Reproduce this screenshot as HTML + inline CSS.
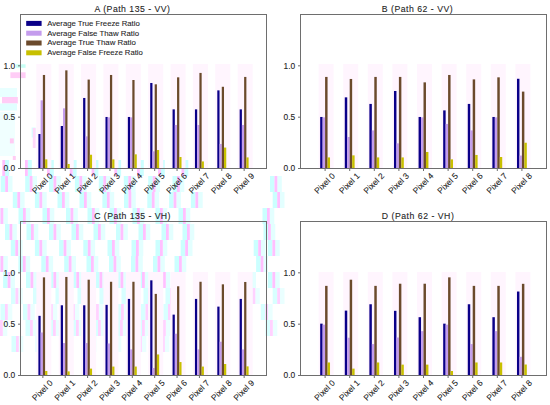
<!DOCTYPE html>
<html><head><meta charset="utf-8"><title>chart</title>
<style>
html,body{margin:0;padding:0;background:#fff;}
body{width:550px;height:405px;overflow:hidden;}
svg{display:block;}
text{font-family:"Liberation Sans",sans-serif;fill:#1e1e1e;stroke:#1e1e1e;stroke-width:0.1px;}
.tk{font-size:8.4px;}
.tt{font-size:8.7px;}
.lg{font-size:6.8px;stroke-width:0.08px;}
</style></head>
<body>
<svg width="550" height="405" viewBox="0 0 550 405">
<rect x="0" y="0" width="550" height="405" fill="#fff"/>
<rect x="15.9" y="64.3" width="9.7" height="3.5" fill="#c8fff5"/>
<rect x="10.4" y="72.3" width="15.2" height="5.8" fill="#ffcdf6"/>
<rect x="0" y="88" width="17" height="9" fill="#e8ffff"/>
<rect x="2" y="97" width="15.8" height="6.5" fill="#ffcdf6"/>
<rect x="0" y="103.5" width="17" height="7" fill="#e0ffff"/>
<rect x="0" y="112" width="15" height="44" fill="#f0ffff"/>
<rect x="31.6" y="127.5" width="4" height="10" fill="#d8ffff"/>
<rect x="32.8" y="128" width="2.8" height="20" fill="#ffd8fa"/>
<rect x="9.9" y="138.4" width="3.9" height="5" fill="#ffccf4"/>
<rect x="12.8" y="156" width="3" height="4" fill="#ffccf4"/>
<rect x="5.1" y="160" width="4" height="16" fill="#cbffff"/>
<rect x="2.3" y="160" width="2.8" height="16" fill="#ffc0ff"/>
<rect x="27.8" y="160" width="4" height="16" fill="#cbffff"/>
<rect x="25.0" y="160" width="2.8" height="16" fill="#ffc0ff"/>
<rect x="49.8" y="160" width="4" height="16" fill="#cbffff"/>
<rect x="47.0" y="160" width="2.8" height="16" fill="#ffc0ff"/>
<rect x="72.6" y="160" width="4" height="16" fill="#cbffff"/>
<rect x="69.8" y="160" width="2.8" height="16" fill="#ffc0ff"/>
<rect x="94.4" y="160" width="4" height="16" fill="#cbffff"/>
<rect x="91.6" y="160" width="2.8" height="16" fill="#ffc0ff"/>
<rect x="117.1" y="160" width="4" height="16" fill="#cbffff"/>
<rect x="114.3" y="160" width="2.8" height="16" fill="#ffc0ff"/>
<rect x="139.8" y="160" width="4" height="16" fill="#cbffff"/>
<rect x="137.0" y="160" width="2.8" height="16" fill="#ffc0ff"/>
<rect x="160.8" y="160" width="4" height="16" fill="#cbffff"/>
<rect x="158.0" y="160" width="2.8" height="16" fill="#ffc0ff"/>
<rect x="184.3" y="160" width="4" height="16" fill="#cbffff"/>
<rect x="181.5" y="160" width="2.8" height="16" fill="#ffc0ff"/>
<rect x="0.7" y="176" width="4.5" height="16" fill="#cbffff"/>
<rect x="8.0" y="176" width="4.5" height="16" fill="#e3ffff"/>
<rect x="5.2" y="176" width="2.8" height="16" fill="#ffc0ff"/>
<rect x="25.2" y="176" width="4.5" height="16" fill="#cbffff"/>
<rect x="32.5" y="176" width="4.5" height="16" fill="#e3ffff"/>
<rect x="29.7" y="176" width="2.8" height="16" fill="#ffc0ff"/>
<rect x="49.0" y="176" width="4.5" height="16" fill="#cbffff"/>
<rect x="56.3" y="176" width="4.5" height="16" fill="#e3ffff"/>
<rect x="53.5" y="176" width="2.8" height="16" fill="#ffc0ff"/>
<rect x="74.9" y="176" width="4.5" height="16" fill="#cbffff"/>
<rect x="82.2" y="176" width="4.5" height="16" fill="#e3ffff"/>
<rect x="79.4" y="176" width="2.8" height="16" fill="#ffc0ff"/>
<rect x="98.8" y="176" width="4.5" height="16" fill="#cbffff"/>
<rect x="106.1" y="176" width="4.5" height="16" fill="#e3ffff"/>
<rect x="103.3" y="176" width="2.8" height="16" fill="#ffc0ff"/>
<rect x="123.8" y="176" width="4.5" height="16" fill="#cbffff"/>
<rect x="131.1" y="176" width="4.5" height="16" fill="#e3ffff"/>
<rect x="128.3" y="176" width="2.8" height="16" fill="#ffc0ff"/>
<rect x="148.2" y="176" width="4.5" height="16" fill="#cbffff"/>
<rect x="155.5" y="176" width="4.5" height="16" fill="#e3ffff"/>
<rect x="152.7" y="176" width="2.8" height="16" fill="#ffc0ff"/>
<rect x="172.5" y="176" width="4.5" height="16" fill="#cbffff"/>
<rect x="179.8" y="176" width="4.5" height="16" fill="#e3ffff"/>
<rect x="177.0" y="176" width="2.8" height="16" fill="#ffc0ff"/>
<rect x="270.0" y="176" width="4.5" height="16" fill="#cbffff"/>
<rect x="277.3" y="176" width="4.5" height="16" fill="#e3ffff"/>
<rect x="274.5" y="176" width="2.8" height="16" fill="#ffc0ff"/>
<rect x="12.8" y="192" width="4.5" height="16" fill="#cbffff"/>
<rect x="20.1" y="192" width="4.5" height="16" fill="#e3ffff"/>
<rect x="17.3" y="192" width="2.8" height="16" fill="#ffc0ff"/>
<rect x="34.9" y="192" width="4.5" height="16" fill="#cbffff"/>
<rect x="42.2" y="192" width="4.5" height="16" fill="#e3ffff"/>
<rect x="39.4" y="192" width="2.8" height="16" fill="#ffc0ff"/>
<rect x="57.5" y="192" width="4.5" height="16" fill="#cbffff"/>
<rect x="64.8" y="192" width="4.5" height="16" fill="#e3ffff"/>
<rect x="62.0" y="192" width="2.8" height="16" fill="#ffc0ff"/>
<rect x="79.5" y="192" width="4.5" height="16" fill="#cbffff"/>
<rect x="86.8" y="192" width="4.5" height="16" fill="#e3ffff"/>
<rect x="84.0" y="192" width="2.8" height="16" fill="#ffc0ff"/>
<rect x="102.4" y="192" width="4.5" height="16" fill="#cbffff"/>
<rect x="109.7" y="192" width="4.5" height="16" fill="#e3ffff"/>
<rect x="106.9" y="192" width="2.8" height="16" fill="#ffc0ff"/>
<rect x="124.0" y="192" width="4.5" height="16" fill="#cbffff"/>
<rect x="131.3" y="192" width="4.5" height="16" fill="#e3ffff"/>
<rect x="128.5" y="192" width="2.8" height="16" fill="#ffc0ff"/>
<rect x="147.3" y="192" width="4.5" height="16" fill="#cbffff"/>
<rect x="154.6" y="192" width="4.5" height="16" fill="#e3ffff"/>
<rect x="151.8" y="192" width="2.8" height="16" fill="#ffc0ff"/>
<rect x="169.1" y="192" width="4.5" height="16" fill="#cbffff"/>
<rect x="176.4" y="192" width="4.5" height="16" fill="#e3ffff"/>
<rect x="173.6" y="192" width="2.8" height="16" fill="#ffc0ff"/>
<rect x="190.9" y="192" width="4.5" height="16" fill="#cbffff"/>
<rect x="198.2" y="192" width="4.5" height="16" fill="#e3ffff"/>
<rect x="195.4" y="192" width="2.8" height="16" fill="#ffc0ff"/>
<rect x="272.7" y="192" width="4.5" height="16" fill="#cbffff"/>
<rect x="280.0" y="192" width="4.5" height="16" fill="#e3ffff"/>
<rect x="277.2" y="192" width="2.8" height="16" fill="#ffc0ff"/>
<rect x="-4.0" y="208" width="4.5" height="16" fill="#cbffff"/>
<rect x="3.3" y="208" width="4.5" height="16" fill="#e3ffff"/>
<rect x="0.5" y="208" width="2.8" height="16" fill="#ffc0ff"/>
<rect x="18.5" y="208" width="4.5" height="16" fill="#cbffff"/>
<rect x="25.8" y="208" width="4.5" height="16" fill="#e3ffff"/>
<rect x="23.0" y="208" width="2.8" height="16" fill="#ffc0ff"/>
<rect x="42.5" y="208" width="4.5" height="16" fill="#cbffff"/>
<rect x="49.8" y="208" width="4.5" height="16" fill="#e3ffff"/>
<rect x="47.0" y="208" width="2.8" height="16" fill="#ffc0ff"/>
<rect x="66.0" y="208" width="4.5" height="16" fill="#cbffff"/>
<rect x="73.3" y="208" width="4.5" height="16" fill="#e3ffff"/>
<rect x="70.5" y="208" width="2.8" height="16" fill="#ffc0ff"/>
<rect x="87.5" y="208" width="4.5" height="16" fill="#cbffff"/>
<rect x="94.8" y="208" width="4.5" height="16" fill="#e3ffff"/>
<rect x="92.0" y="208" width="2.8" height="16" fill="#ffc0ff"/>
<rect x="109.5" y="208" width="4.5" height="16" fill="#cbffff"/>
<rect x="116.8" y="208" width="4.5" height="16" fill="#e3ffff"/>
<rect x="114.0" y="208" width="2.8" height="16" fill="#ffc0ff"/>
<rect x="132.5" y="208" width="4.5" height="16" fill="#cbffff"/>
<rect x="139.8" y="208" width="4.5" height="16" fill="#e3ffff"/>
<rect x="137.0" y="208" width="2.8" height="16" fill="#ffc0ff"/>
<rect x="155.5" y="208" width="4.5" height="16" fill="#cbffff"/>
<rect x="162.8" y="208" width="4.5" height="16" fill="#e3ffff"/>
<rect x="160.0" y="208" width="2.8" height="16" fill="#ffc0ff"/>
<rect x="178.5" y="208" width="4.5" height="16" fill="#cbffff"/>
<rect x="185.8" y="208" width="4.5" height="16" fill="#e3ffff"/>
<rect x="183.0" y="208" width="2.8" height="16" fill="#ffc0ff"/>
<rect x="262.5" y="208" width="4.5" height="16" fill="#cbffff"/>
<rect x="269.8" y="208" width="4.5" height="16" fill="#e3ffff"/>
<rect x="267.0" y="208" width="2.8" height="16" fill="#ffc0ff"/>
<rect x="5.0" y="224" width="4.5" height="16" fill="#cbffff"/>
<rect x="12.3" y="224" width="4.5" height="16" fill="#e3ffff"/>
<rect x="9.5" y="224" width="2.8" height="16" fill="#ffc0ff"/>
<rect x="26.5" y="224" width="4.5" height="16" fill="#cbffff"/>
<rect x="33.8" y="224" width="4.5" height="16" fill="#e3ffff"/>
<rect x="31.0" y="224" width="2.8" height="16" fill="#ffc0ff"/>
<rect x="49.0" y="224" width="4.5" height="16" fill="#cbffff"/>
<rect x="56.3" y="224" width="4.5" height="16" fill="#e3ffff"/>
<rect x="53.5" y="224" width="2.8" height="16" fill="#ffc0ff"/>
<rect x="71.5" y="224" width="4.5" height="16" fill="#cbffff"/>
<rect x="78.8" y="224" width="4.5" height="16" fill="#e3ffff"/>
<rect x="76.0" y="224" width="2.8" height="16" fill="#ffc0ff"/>
<rect x="93.5" y="224" width="4.5" height="16" fill="#cbffff"/>
<rect x="100.8" y="224" width="4.5" height="16" fill="#e3ffff"/>
<rect x="98.0" y="224" width="2.8" height="16" fill="#ffc0ff"/>
<rect x="116.0" y="224" width="4.5" height="16" fill="#cbffff"/>
<rect x="123.3" y="224" width="4.5" height="16" fill="#e3ffff"/>
<rect x="120.5" y="224" width="2.8" height="16" fill="#ffc0ff"/>
<rect x="138.5" y="224" width="4.5" height="16" fill="#cbffff"/>
<rect x="145.8" y="224" width="4.5" height="16" fill="#e3ffff"/>
<rect x="143.0" y="224" width="2.8" height="16" fill="#ffc0ff"/>
<rect x="161.5" y="224" width="4.5" height="16" fill="#cbffff"/>
<rect x="168.8" y="224" width="4.5" height="16" fill="#e3ffff"/>
<rect x="166.0" y="224" width="2.8" height="16" fill="#ffc0ff"/>
<rect x="182.5" y="224" width="4.5" height="16" fill="#cbffff"/>
<rect x="189.8" y="224" width="4.5" height="16" fill="#e3ffff"/>
<rect x="187.0" y="224" width="2.8" height="16" fill="#ffc0ff"/>
<rect x="263.5" y="224" width="4.5" height="16" fill="#cbffff"/>
<rect x="270.8" y="224" width="4.5" height="16" fill="#e3ffff"/>
<rect x="268.0" y="224" width="2.8" height="16" fill="#ffc0ff"/>
<rect x="10.8" y="240" width="4.5" height="16" fill="#cbffff"/>
<rect x="18.1" y="240" width="4.5" height="16" fill="#e3ffff"/>
<rect x="15.3" y="240" width="2.8" height="16" fill="#ffc0ff"/>
<rect x="34.9" y="240" width="4.5" height="16" fill="#cbffff"/>
<rect x="42.2" y="240" width="4.5" height="16" fill="#e3ffff"/>
<rect x="39.4" y="240" width="2.8" height="16" fill="#ffc0ff"/>
<rect x="59.1" y="240" width="4.5" height="16" fill="#cbffff"/>
<rect x="66.4" y="240" width="4.5" height="16" fill="#e3ffff"/>
<rect x="63.6" y="240" width="2.8" height="16" fill="#ffc0ff"/>
<rect x="83.3" y="240" width="4.5" height="16" fill="#cbffff"/>
<rect x="90.6" y="240" width="4.5" height="16" fill="#e3ffff"/>
<rect x="87.8" y="240" width="2.8" height="16" fill="#ffc0ff"/>
<rect x="107.5" y="240" width="4.5" height="16" fill="#cbffff"/>
<rect x="114.8" y="240" width="4.5" height="16" fill="#e3ffff"/>
<rect x="112.0" y="240" width="2.8" height="16" fill="#ffc0ff"/>
<rect x="131.5" y="240" width="4.5" height="16" fill="#cbffff"/>
<rect x="138.8" y="240" width="4.5" height="16" fill="#e3ffff"/>
<rect x="136.0" y="240" width="2.8" height="16" fill="#ffc0ff"/>
<rect x="155.5" y="240" width="4.5" height="16" fill="#cbffff"/>
<rect x="162.8" y="240" width="4.5" height="16" fill="#e3ffff"/>
<rect x="160.0" y="240" width="2.8" height="16" fill="#ffc0ff"/>
<rect x="180.7" y="240" width="4.5" height="16" fill="#cbffff"/>
<rect x="188.0" y="240" width="4.5" height="16" fill="#e3ffff"/>
<rect x="185.2" y="240" width="2.8" height="16" fill="#ffc0ff"/>
<rect x="253.7" y="240" width="4.5" height="16" fill="#cbffff"/>
<rect x="261.0" y="240" width="4.5" height="16" fill="#e3ffff"/>
<rect x="258.2" y="240" width="2.8" height="16" fill="#ffc0ff"/>
<rect x="267.9" y="240" width="4.5" height="16" fill="#cbffff"/>
<rect x="275.2" y="240" width="4.5" height="16" fill="#e3ffff"/>
<rect x="272.4" y="240" width="2.8" height="16" fill="#ffc0ff"/>
<rect x="-4.0" y="256" width="4.5" height="16" fill="#cbffff"/>
<rect x="3.3" y="256" width="4.5" height="16" fill="#e3ffff"/>
<rect x="0.5" y="256" width="2.8" height="16" fill="#ffc0ff"/>
<rect x="18.4" y="256" width="4.5" height="16" fill="#cbffff"/>
<rect x="25.7" y="256" width="4.5" height="16" fill="#e3ffff"/>
<rect x="22.9" y="256" width="2.8" height="16" fill="#ffc0ff"/>
<rect x="41.3" y="256" width="4.5" height="16" fill="#cbffff"/>
<rect x="48.6" y="256" width="4.5" height="16" fill="#e3ffff"/>
<rect x="45.8" y="256" width="2.8" height="16" fill="#ffc0ff"/>
<rect x="64.2" y="256" width="4.5" height="16" fill="#cbffff"/>
<rect x="71.5" y="256" width="4.5" height="16" fill="#e3ffff"/>
<rect x="68.7" y="256" width="2.8" height="16" fill="#ffc0ff"/>
<rect x="86.5" y="256" width="4.5" height="16" fill="#cbffff"/>
<rect x="93.8" y="256" width="4.5" height="16" fill="#e3ffff"/>
<rect x="91.0" y="256" width="2.8" height="16" fill="#ffc0ff"/>
<rect x="109.0" y="256" width="4.5" height="16" fill="#cbffff"/>
<rect x="116.3" y="256" width="4.5" height="16" fill="#e3ffff"/>
<rect x="113.5" y="256" width="2.8" height="16" fill="#ffc0ff"/>
<rect x="131.0" y="256" width="4.5" height="16" fill="#cbffff"/>
<rect x="138.3" y="256" width="4.5" height="16" fill="#e3ffff"/>
<rect x="135.5" y="256" width="2.8" height="16" fill="#ffc0ff"/>
<rect x="153.0" y="256" width="4.5" height="16" fill="#cbffff"/>
<rect x="160.3" y="256" width="4.5" height="16" fill="#e3ffff"/>
<rect x="157.5" y="256" width="2.8" height="16" fill="#ffc0ff"/>
<rect x="174.5" y="256" width="4.5" height="16" fill="#cbffff"/>
<rect x="181.8" y="256" width="4.5" height="16" fill="#e3ffff"/>
<rect x="179.0" y="256" width="2.8" height="16" fill="#ffc0ff"/>
<rect x="256.1" y="256" width="4.5" height="16" fill="#cbffff"/>
<rect x="263.4" y="256" width="4.5" height="16" fill="#e3ffff"/>
<rect x="260.6" y="256" width="2.8" height="16" fill="#ffc0ff"/>
<rect x="3.1" y="272" width="4.5" height="16" fill="#cbffff"/>
<rect x="10.4" y="272" width="4.5" height="16" fill="#e3ffff"/>
<rect x="7.6" y="272" width="2.8" height="16" fill="#ffc0ff"/>
<rect x="26.0" y="272" width="4.5" height="16" fill="#cbffff"/>
<rect x="33.3" y="272" width="4.5" height="16" fill="#e3ffff"/>
<rect x="30.5" y="272" width="2.8" height="16" fill="#ffc0ff"/>
<rect x="48.9" y="272" width="4.5" height="16" fill="#cbffff"/>
<rect x="56.2" y="272" width="4.5" height="16" fill="#e3ffff"/>
<rect x="53.4" y="272" width="2.8" height="16" fill="#ffc0ff"/>
<rect x="71.8" y="272" width="4.5" height="16" fill="#cbffff"/>
<rect x="79.1" y="272" width="4.5" height="16" fill="#e3ffff"/>
<rect x="76.3" y="272" width="2.8" height="16" fill="#ffc0ff"/>
<rect x="95.0" y="272" width="4.5" height="16" fill="#cbffff"/>
<rect x="102.3" y="272" width="4.5" height="16" fill="#e3ffff"/>
<rect x="99.5" y="272" width="2.8" height="16" fill="#ffc0ff"/>
<rect x="116.0" y="272" width="4.5" height="16" fill="#cbffff"/>
<rect x="123.3" y="272" width="4.5" height="16" fill="#e3ffff"/>
<rect x="120.5" y="272" width="2.8" height="16" fill="#ffc0ff"/>
<rect x="137.5" y="272" width="4.5" height="16" fill="#cbffff"/>
<rect x="144.8" y="272" width="4.5" height="16" fill="#e3ffff"/>
<rect x="142.0" y="272" width="2.8" height="16" fill="#ffc0ff"/>
<rect x="158.5" y="272" width="4.5" height="16" fill="#cbffff"/>
<rect x="165.8" y="272" width="4.5" height="16" fill="#e3ffff"/>
<rect x="163.0" y="272" width="2.8" height="16" fill="#ffc0ff"/>
<rect x="244.2" y="272" width="4.5" height="16" fill="#cbffff"/>
<rect x="251.5" y="272" width="4.5" height="16" fill="#e3ffff"/>
<rect x="248.7" y="272" width="2.8" height="16" fill="#ffc0ff"/>
<rect x="267.9" y="272" width="4.5" height="16" fill="#cbffff"/>
<rect x="275.2" y="272" width="4.5" height="16" fill="#e3ffff"/>
<rect x="272.4" y="272" width="2.8" height="16" fill="#ffc0ff"/>
<rect x="11.0" y="288" width="4.5" height="16" fill="#d8ffff"/>
<rect x="18.3" y="288" width="4.5" height="16" fill="#eaffff"/>
<rect x="15.5" y="288" width="2.8" height="16" fill="#ffd2ff"/>
<rect x="33.0" y="288" width="4.5" height="16" fill="#d8ffff"/>
<rect x="40.3" y="288" width="4.5" height="16" fill="#eaffff"/>
<rect x="37.5" y="288" width="2.8" height="16" fill="#ffd2ff"/>
<rect x="55.5" y="288" width="4.5" height="16" fill="#d8ffff"/>
<rect x="62.8" y="288" width="4.5" height="16" fill="#eaffff"/>
<rect x="60.0" y="288" width="2.8" height="16" fill="#ffd2ff"/>
<rect x="77.5" y="288" width="4.5" height="16" fill="#d8ffff"/>
<rect x="84.8" y="288" width="4.5" height="16" fill="#eaffff"/>
<rect x="82.0" y="288" width="2.8" height="16" fill="#ffd2ff"/>
<rect x="99.5" y="288" width="4.5" height="16" fill="#d8ffff"/>
<rect x="106.8" y="288" width="4.5" height="16" fill="#eaffff"/>
<rect x="104.0" y="288" width="2.8" height="16" fill="#ffd2ff"/>
<rect x="121.5" y="288" width="4.5" height="16" fill="#d8ffff"/>
<rect x="128.8" y="288" width="4.5" height="16" fill="#eaffff"/>
<rect x="126.0" y="288" width="2.8" height="16" fill="#ffd2ff"/>
<rect x="143.5" y="288" width="4.5" height="16" fill="#d8ffff"/>
<rect x="150.8" y="288" width="4.5" height="16" fill="#eaffff"/>
<rect x="148.0" y="288" width="2.8" height="16" fill="#ffd2ff"/>
<rect x="165.5" y="288" width="4.5" height="16" fill="#d8ffff"/>
<rect x="172.8" y="288" width="4.5" height="16" fill="#eaffff"/>
<rect x="170.0" y="288" width="2.8" height="16" fill="#ffd2ff"/>
<rect x="248.0" y="288" width="4.5" height="16" fill="#d8ffff"/>
<rect x="255.3" y="288" width="4.5" height="16" fill="#eaffff"/>
<rect x="252.5" y="288" width="2.8" height="16" fill="#ffd2ff"/>
<rect x="272.7" y="288" width="4.5" height="16" fill="#d8ffff"/>
<rect x="280.0" y="288" width="4.5" height="16" fill="#eaffff"/>
<rect x="277.2" y="288" width="2.8" height="16" fill="#ffd2ff"/>
<rect x="0.5" y="304" width="4.5" height="16" fill="#d8ffff"/>
<rect x="7.8" y="304" width="4.5" height="16" fill="#eaffff"/>
<rect x="5.0" y="304" width="2.8" height="16" fill="#ffd2ff"/>
<rect x="23.0" y="304" width="4.5" height="16" fill="#d8ffff"/>
<rect x="30.3" y="304" width="4.5" height="16" fill="#eaffff"/>
<rect x="27.5" y="304" width="2.8" height="16" fill="#ffd2ff"/>
<rect x="45.5" y="304" width="4.5" height="16" fill="#d8ffff"/>
<rect x="52.8" y="304" width="4.5" height="16" fill="#eaffff"/>
<rect x="50.0" y="304" width="2.8" height="16" fill="#ffd2ff"/>
<rect x="67.5" y="304" width="4.5" height="16" fill="#d8ffff"/>
<rect x="74.8" y="304" width="4.5" height="16" fill="#eaffff"/>
<rect x="72.0" y="304" width="2.8" height="16" fill="#ffd2ff"/>
<rect x="91.5" y="304" width="4.5" height="16" fill="#d8ffff"/>
<rect x="98.8" y="304" width="4.5" height="16" fill="#eaffff"/>
<rect x="96.0" y="304" width="2.8" height="16" fill="#ffd2ff"/>
<rect x="116.5" y="304" width="4.5" height="16" fill="#d8ffff"/>
<rect x="123.8" y="304" width="4.5" height="16" fill="#eaffff"/>
<rect x="121.0" y="304" width="2.8" height="16" fill="#ffd2ff"/>
<rect x="141.0" y="304" width="4.5" height="16" fill="#d8ffff"/>
<rect x="148.3" y="304" width="4.5" height="16" fill="#eaffff"/>
<rect x="145.5" y="304" width="2.8" height="16" fill="#ffd2ff"/>
<rect x="163.5" y="304" width="4.5" height="16" fill="#d8ffff"/>
<rect x="170.8" y="304" width="4.5" height="16" fill="#eaffff"/>
<rect x="168.0" y="304" width="2.8" height="16" fill="#ffd2ff"/>
<rect x="260.8" y="304" width="4.5" height="16" fill="#d8ffff"/>
<rect x="268.1" y="304" width="4.5" height="16" fill="#eaffff"/>
<rect x="265.3" y="304" width="2.8" height="16" fill="#ffd2ff"/>
<rect x="-4.5" y="320" width="4.5" height="16" fill="#d8ffff"/>
<rect x="2.8" y="320" width="4.5" height="16" fill="#eaffff"/>
<rect x="0.0" y="320" width="2.8" height="16" fill="#ffd2ff"/>
<rect x="25.5" y="320" width="4.5" height="16" fill="#d8ffff"/>
<rect x="32.8" y="320" width="4.5" height="16" fill="#eaffff"/>
<rect x="30.0" y="320" width="2.8" height="16" fill="#ffd2ff"/>
<rect x="48.5" y="320" width="4.5" height="16" fill="#d8ffff"/>
<rect x="55.8" y="320" width="4.5" height="16" fill="#eaffff"/>
<rect x="53.0" y="320" width="2.8" height="16" fill="#ffd2ff"/>
<rect x="71.5" y="320" width="4.5" height="16" fill="#d8ffff"/>
<rect x="78.8" y="320" width="4.5" height="16" fill="#eaffff"/>
<rect x="76.0" y="320" width="2.8" height="16" fill="#ffd2ff"/>
<rect x="93.5" y="320" width="4.5" height="16" fill="#d8ffff"/>
<rect x="100.8" y="320" width="4.5" height="16" fill="#eaffff"/>
<rect x="98.0" y="320" width="2.8" height="16" fill="#ffd2ff"/>
<rect x="115.5" y="320" width="4.5" height="16" fill="#d8ffff"/>
<rect x="122.8" y="320" width="4.5" height="16" fill="#eaffff"/>
<rect x="120.0" y="320" width="2.8" height="16" fill="#ffd2ff"/>
<rect x="137.5" y="320" width="4.5" height="16" fill="#d8ffff"/>
<rect x="144.8" y="320" width="4.5" height="16" fill="#eaffff"/>
<rect x="142.0" y="320" width="2.8" height="16" fill="#ffd2ff"/>
<rect x="158.5" y="320" width="4.5" height="16" fill="#d8ffff"/>
<rect x="165.8" y="320" width="4.5" height="16" fill="#eaffff"/>
<rect x="163.0" y="320" width="2.8" height="16" fill="#ffd2ff"/>
<rect x="265.5" y="320" width="4.5" height="16" fill="#d8ffff"/>
<rect x="272.8" y="320" width="4.5" height="16" fill="#eaffff"/>
<rect x="270.0" y="320" width="2.8" height="16" fill="#ffd2ff"/>
<rect x="11.5" y="336" width="4.5" height="16" fill="#d8ffff"/>
<rect x="18.8" y="336" width="4.5" height="16" fill="#eaffff"/>
<rect x="16.0" y="336" width="2.8" height="16" fill="#ffd2ff"/>
<rect x="35.5" y="336" width="4.5" height="16" fill="#d8ffff"/>
<rect x="42.8" y="336" width="4.5" height="16" fill="#eaffff"/>
<rect x="40.0" y="336" width="2.8" height="16" fill="#ffd2ff"/>
<rect x="59.5" y="336" width="4.5" height="16" fill="#d8ffff"/>
<rect x="66.8" y="336" width="4.5" height="16" fill="#eaffff"/>
<rect x="64.0" y="336" width="2.8" height="16" fill="#ffd2ff"/>
<rect x="84.5" y="336" width="4.5" height="16" fill="#d8ffff"/>
<rect x="91.8" y="336" width="4.5" height="16" fill="#eaffff"/>
<rect x="89.0" y="336" width="2.8" height="16" fill="#ffd2ff"/>
<rect x="109.5" y="336" width="4.5" height="16" fill="#d8ffff"/>
<rect x="116.8" y="336" width="4.5" height="16" fill="#eaffff"/>
<rect x="114.0" y="336" width="2.8" height="16" fill="#ffd2ff"/>
<rect x="134.5" y="336" width="4.5" height="16" fill="#d8ffff"/>
<rect x="141.8" y="336" width="4.5" height="16" fill="#eaffff"/>
<rect x="139.0" y="336" width="2.8" height="16" fill="#ffd2ff"/>
<rect x="157.5" y="336" width="4.5" height="16" fill="#d8ffff"/>
<rect x="164.8" y="336" width="4.5" height="16" fill="#eaffff"/>
<rect x="162.0" y="336" width="2.8" height="16" fill="#ffd2ff"/>
<rect x="36.36" y="64" width="15" height="104" fill="#fff5fe"/>
<rect x="58.73" y="64" width="15" height="104" fill="#fff5fe"/>
<rect x="81.09" y="64" width="15" height="104" fill="#fff5fe"/>
<rect x="103.45" y="64" width="15" height="104" fill="#fff5fe"/>
<rect x="125.82" y="64" width="15" height="104" fill="#fff5fe"/>
<rect x="148.18" y="64" width="15" height="104" fill="#fff5fe"/>
<rect x="170.55" y="64" width="15" height="104" fill="#fff5fe"/>
<rect x="192.91" y="64" width="15" height="104" fill="#fff5fe"/>
<rect x="215.27" y="64" width="15" height="104" fill="#fff5fe"/>
<rect x="237.64" y="64" width="15" height="104" fill="#fff5fe"/>
<rect x="38.39" y="134.00" width="2.24" height="34.50" fill="#0a0088"/>
<rect x="40.63" y="100.33" width="2.24" height="68.17" fill="#c49ced"/>
<rect x="42.86" y="74.97" width="2.24" height="93.53" fill="#6b4a2c"/>
<rect x="45.10" y="159.36" width="2.24" height="9.14" fill="#c8c000"/>
<rect x="60.75" y="126.00" width="2.24" height="42.50" fill="#0a0088"/>
<rect x="62.99" y="108.34" width="2.24" height="60.16" fill="#c49ced"/>
<rect x="65.23" y="70.35" width="2.24" height="98.15" fill="#6b4a2c"/>
<rect x="67.46" y="163.98" width="2.24" height="4.52" fill="#c8c000"/>
<rect x="83.12" y="97.97" width="2.24" height="70.53" fill="#0a0088"/>
<rect x="85.35" y="136.37" width="2.24" height="32.13" fill="#c49ced"/>
<rect x="87.59" y="79.59" width="2.24" height="88.91" fill="#6b4a2c"/>
<rect x="89.83" y="154.74" width="2.24" height="13.76" fill="#c8c000"/>
<rect x="105.48" y="116.96" width="2.24" height="51.54" fill="#0a0088"/>
<rect x="107.72" y="117.37" width="2.24" height="51.13" fill="#c49ced"/>
<rect x="109.95" y="74.97" width="2.24" height="93.53" fill="#6b4a2c"/>
<rect x="112.19" y="159.36" width="2.24" height="9.14" fill="#c8c000"/>
<rect x="127.85" y="116.96" width="2.24" height="51.54" fill="#0a0088"/>
<rect x="130.08" y="117.37" width="2.24" height="51.13" fill="#c49ced"/>
<rect x="132.32" y="80.00" width="2.24" height="88.50" fill="#6b4a2c"/>
<rect x="134.55" y="154.33" width="2.24" height="14.17" fill="#c8c000"/>
<rect x="150.21" y="82.98" width="2.24" height="85.52" fill="#0a0088"/>
<rect x="152.45" y="151.35" width="2.24" height="17.15" fill="#c49ced"/>
<rect x="154.68" y="84.31" width="2.24" height="84.19" fill="#6b4a2c"/>
<rect x="156.92" y="150.02" width="2.24" height="18.48" fill="#c8c000"/>
<rect x="172.57" y="109.36" width="2.24" height="59.14" fill="#0a0088"/>
<rect x="174.81" y="124.97" width="2.24" height="43.53" fill="#c49ced"/>
<rect x="177.05" y="77.33" width="2.24" height="91.17" fill="#6b4a2c"/>
<rect x="179.28" y="157.00" width="2.24" height="11.50" fill="#c8c000"/>
<rect x="194.94" y="109.36" width="2.24" height="59.14" fill="#0a0088"/>
<rect x="197.17" y="124.97" width="2.24" height="43.53" fill="#c49ced"/>
<rect x="199.41" y="72.92" width="2.24" height="95.58" fill="#6b4a2c"/>
<rect x="201.65" y="161.42" width="2.24" height="7.08" fill="#c8c000"/>
<rect x="217.30" y="90.37" width="2.24" height="78.13" fill="#0a0088"/>
<rect x="219.54" y="143.96" width="2.24" height="24.54" fill="#c49ced"/>
<rect x="221.77" y="86.78" width="2.24" height="81.72" fill="#6b4a2c"/>
<rect x="224.01" y="147.56" width="2.24" height="20.94" fill="#c8c000"/>
<rect x="239.66" y="109.36" width="2.24" height="59.14" fill="#0a0088"/>
<rect x="241.90" y="124.97" width="2.24" height="43.53" fill="#c49ced"/>
<rect x="244.14" y="76.92" width="2.24" height="91.58" fill="#6b4a2c"/>
<rect x="246.37" y="157.41" width="2.24" height="11.09" fill="#c8c000"/>
<rect x="20" y="14" width="247" height="1" fill="#6e6e6e"/>
<rect x="20" y="168" width="247" height="1" fill="#6e6e6e"/>
<rect x="20" y="14" width="1" height="155" fill="#6e6e6e"/>
<rect x="266" y="14" width="1" height="155" fill="#6e6e6e"/>
<rect x="18" y="168.00" width="2" height="1" fill="#6e6e6e"/>
<text x="15.20" y="171.25" text-anchor="end" class="tk">0.0</text>
<rect x="18" y="116.67" width="2" height="1" fill="#6e6e6e"/>
<text x="15.20" y="119.92" text-anchor="end" class="tk">0.5</text>
<rect x="18" y="65.33" width="2" height="1" fill="#6e6e6e"/>
<text x="15.20" y="68.58" text-anchor="end" class="tk">1.0</text>
<rect x="42.36" y="169" width="1" height="2" fill="#6e6e6e"/>
<text class="tk" text-anchor="middle" transform="translate(42.56,183.40) rotate(-45)" y="2.75">Pixel 0</text>
<rect x="64.73" y="169" width="1" height="2" fill="#6e6e6e"/>
<text class="tk" text-anchor="middle" transform="translate(64.93,183.40) rotate(-45)" y="2.75">Pixel 1</text>
<rect x="87.09" y="169" width="1" height="2" fill="#6e6e6e"/>
<text class="tk" text-anchor="middle" transform="translate(87.29,183.40) rotate(-45)" y="2.75">Pixel 2</text>
<rect x="109.45" y="169" width="1" height="2" fill="#6e6e6e"/>
<text class="tk" text-anchor="middle" transform="translate(109.65,183.40) rotate(-45)" y="2.75">Pixel 3</text>
<rect x="131.82" y="169" width="1" height="2" fill="#6e6e6e"/>
<text class="tk" text-anchor="middle" transform="translate(132.02,183.40) rotate(-45)" y="2.75">Pixel 4</text>
<rect x="154.18" y="169" width="1" height="2" fill="#6e6e6e"/>
<text class="tk" text-anchor="middle" transform="translate(154.38,183.40) rotate(-45)" y="2.75">Pixel 5</text>
<rect x="176.55" y="169" width="1" height="2" fill="#6e6e6e"/>
<text class="tk" text-anchor="middle" transform="translate(176.75,183.40) rotate(-45)" y="2.75">Pixel 6</text>
<rect x="198.91" y="169" width="1" height="2" fill="#6e6e6e"/>
<text class="tk" text-anchor="middle" transform="translate(199.11,183.40) rotate(-45)" y="2.75">Pixel 7</text>
<rect x="221.27" y="169" width="1" height="2" fill="#6e6e6e"/>
<text class="tk" text-anchor="middle" transform="translate(221.47,183.40) rotate(-45)" y="2.75">Pixel 8</text>
<rect x="243.64" y="169" width="1" height="2" fill="#6e6e6e"/>
<text class="tk" text-anchor="middle" transform="translate(243.84,183.40) rotate(-45)" y="2.75">Pixel 9</text>
<text class="tt" x="94.50" y="11.70" textLength="75.50" lengthAdjust="spacing">A (Path 135 - VV)</text>
<rect x="318.60" y="64" width="15" height="104" fill="#fff5fe"/>
<rect x="343.20" y="64" width="15" height="104" fill="#fff5fe"/>
<rect x="367.80" y="64" width="15" height="104" fill="#fff5fe"/>
<rect x="392.40" y="64" width="15" height="104" fill="#fff5fe"/>
<rect x="417.00" y="64" width="15" height="104" fill="#fff5fe"/>
<rect x="441.60" y="64" width="15" height="104" fill="#fff5fe"/>
<rect x="466.20" y="64" width="15" height="104" fill="#fff5fe"/>
<rect x="490.80" y="64" width="15" height="104" fill="#fff5fe"/>
<rect x="515.40" y="64" width="15" height="104" fill="#fff5fe"/>
<rect x="320.18" y="116.96" width="2.46" height="51.54" fill="#0a0088"/>
<rect x="322.64" y="117.37" width="2.46" height="51.13" fill="#c49ced"/>
<rect x="325.10" y="76.92" width="2.46" height="91.58" fill="#6b4a2c"/>
<rect x="327.56" y="157.41" width="2.46" height="11.09" fill="#c8c000"/>
<rect x="344.78" y="97.35" width="2.46" height="71.15" fill="#0a0088"/>
<rect x="347.24" y="136.98" width="2.46" height="31.52" fill="#c49ced"/>
<rect x="349.70" y="78.97" width="2.46" height="89.53" fill="#6b4a2c"/>
<rect x="352.16" y="155.36" width="2.46" height="13.14" fill="#c8c000"/>
<rect x="369.38" y="103.92" width="2.46" height="64.58" fill="#0a0088"/>
<rect x="371.84" y="130.41" width="2.46" height="38.09" fill="#c49ced"/>
<rect x="374.30" y="76.92" width="2.46" height="91.58" fill="#6b4a2c"/>
<rect x="376.76" y="157.41" width="2.46" height="11.09" fill="#c8c000"/>
<rect x="393.98" y="90.99" width="2.46" height="77.51" fill="#0a0088"/>
<rect x="396.44" y="143.35" width="2.46" height="25.15" fill="#c49ced"/>
<rect x="398.90" y="76.92" width="2.46" height="91.58" fill="#6b4a2c"/>
<rect x="401.36" y="157.41" width="2.46" height="11.09" fill="#c8c000"/>
<rect x="418.58" y="116.96" width="2.46" height="51.54" fill="#0a0088"/>
<rect x="421.04" y="117.37" width="2.46" height="51.13" fill="#c49ced"/>
<rect x="423.50" y="82.36" width="2.46" height="86.14" fill="#6b4a2c"/>
<rect x="425.96" y="151.97" width="2.46" height="16.53" fill="#c8c000"/>
<rect x="443.18" y="110.39" width="2.46" height="58.11" fill="#0a0088"/>
<rect x="445.64" y="123.94" width="2.46" height="44.56" fill="#c49ced"/>
<rect x="448.10" y="74.97" width="2.46" height="93.53" fill="#6b4a2c"/>
<rect x="450.56" y="159.36" width="2.46" height="9.14" fill="#c8c000"/>
<rect x="467.78" y="103.92" width="2.46" height="64.58" fill="#0a0088"/>
<rect x="470.24" y="130.41" width="2.46" height="38.09" fill="#c49ced"/>
<rect x="472.70" y="79.39" width="2.46" height="89.11" fill="#6b4a2c"/>
<rect x="475.16" y="154.95" width="2.46" height="13.55" fill="#c8c000"/>
<rect x="492.38" y="116.96" width="2.46" height="51.54" fill="#0a0088"/>
<rect x="494.84" y="117.37" width="2.46" height="51.13" fill="#c49ced"/>
<rect x="497.30" y="77.33" width="2.46" height="91.17" fill="#6b4a2c"/>
<rect x="499.76" y="157.00" width="2.46" height="11.50" fill="#c8c000"/>
<rect x="516.98" y="78.77" width="2.46" height="89.73" fill="#0a0088"/>
<rect x="519.44" y="155.56" width="2.46" height="12.94" fill="#c49ced"/>
<rect x="521.90" y="91.60" width="2.46" height="76.90" fill="#6b4a2c"/>
<rect x="524.36" y="142.73" width="2.46" height="25.77" fill="#c8c000"/>
<rect x="300" y="14" width="247" height="1" fill="#6e6e6e"/>
<rect x="300" y="168" width="247" height="1" fill="#6e6e6e"/>
<rect x="300" y="14" width="1" height="155" fill="#6e6e6e"/>
<rect x="546" y="14" width="1" height="155" fill="#6e6e6e"/>
<rect x="298" y="168.00" width="2" height="1" fill="#6e6e6e"/>
<text x="295.20" y="171.25" text-anchor="end" class="tk">0.0</text>
<rect x="298" y="116.67" width="2" height="1" fill="#6e6e6e"/>
<text x="295.20" y="119.92" text-anchor="end" class="tk">0.5</text>
<rect x="298" y="65.33" width="2" height="1" fill="#6e6e6e"/>
<text x="295.20" y="68.58" text-anchor="end" class="tk">1.0</text>
<rect x="324.60" y="169" width="1" height="2" fill="#6e6e6e"/>
<text class="tk" text-anchor="middle" transform="translate(324.80,183.40) rotate(-45)" y="2.75">Pixel 0</text>
<rect x="349.20" y="169" width="1" height="2" fill="#6e6e6e"/>
<text class="tk" text-anchor="middle" transform="translate(349.40,183.40) rotate(-45)" y="2.75">Pixel 1</text>
<rect x="373.80" y="169" width="1" height="2" fill="#6e6e6e"/>
<text class="tk" text-anchor="middle" transform="translate(374.00,183.40) rotate(-45)" y="2.75">Pixel 2</text>
<rect x="398.40" y="169" width="1" height="2" fill="#6e6e6e"/>
<text class="tk" text-anchor="middle" transform="translate(398.60,183.40) rotate(-45)" y="2.75">Pixel 3</text>
<rect x="423.00" y="169" width="1" height="2" fill="#6e6e6e"/>
<text class="tk" text-anchor="middle" transform="translate(423.20,183.40) rotate(-45)" y="2.75">Pixel 4</text>
<rect x="447.60" y="169" width="1" height="2" fill="#6e6e6e"/>
<text class="tk" text-anchor="middle" transform="translate(447.80,183.40) rotate(-45)" y="2.75">Pixel 5</text>
<rect x="472.20" y="169" width="1" height="2" fill="#6e6e6e"/>
<text class="tk" text-anchor="middle" transform="translate(472.40,183.40) rotate(-45)" y="2.75">Pixel 6</text>
<rect x="496.80" y="169" width="1" height="2" fill="#6e6e6e"/>
<text class="tk" text-anchor="middle" transform="translate(497.00,183.40) rotate(-45)" y="2.75">Pixel 7</text>
<rect x="521.40" y="169" width="1" height="2" fill="#6e6e6e"/>
<text class="tk" text-anchor="middle" transform="translate(521.60,183.40) rotate(-45)" y="2.75">Pixel 8</text>
<text class="tt" x="381.80" y="11.70" textLength="70.90" lengthAdjust="spacing">B (Path 62 - VV)</text>
<rect x="36.36" y="272" width="15" height="103" fill="#fff5fe"/>
<rect x="58.73" y="272" width="15" height="103" fill="#fff5fe"/>
<rect x="81.09" y="272" width="15" height="103" fill="#fff5fe"/>
<rect x="103.45" y="272" width="15" height="103" fill="#fff5fe"/>
<rect x="125.82" y="272" width="15" height="103" fill="#fff5fe"/>
<rect x="148.18" y="272" width="15" height="103" fill="#fff5fe"/>
<rect x="170.55" y="272" width="15" height="103" fill="#fff5fe"/>
<rect x="192.91" y="272" width="15" height="103" fill="#fff5fe"/>
<rect x="215.27" y="272" width="15" height="103" fill="#fff5fe"/>
<rect x="237.64" y="272" width="15" height="103" fill="#fff5fe"/>
<rect x="38.39" y="315.85" width="2.24" height="59.65" fill="#0a0088"/>
<rect x="40.63" y="332.48" width="2.24" height="43.02" fill="#c49ced"/>
<rect x="42.86" y="277.35" width="2.24" height="98.15" fill="#6b4a2c"/>
<rect x="45.10" y="370.98" width="2.24" height="4.52" fill="#c8c000"/>
<rect x="60.75" y="305.28" width="2.24" height="70.22" fill="#0a0088"/>
<rect x="62.99" y="343.06" width="2.24" height="32.44" fill="#c49ced"/>
<rect x="65.23" y="276.94" width="2.24" height="98.56" fill="#6b4a2c"/>
<rect x="67.46" y="371.39" width="2.24" height="4.11" fill="#c8c000"/>
<rect x="83.12" y="305.28" width="2.24" height="70.22" fill="#0a0088"/>
<rect x="85.35" y="343.06" width="2.24" height="32.44" fill="#c49ced"/>
<rect x="87.59" y="279.71" width="2.24" height="95.79" fill="#6b4a2c"/>
<rect x="89.83" y="368.62" width="2.24" height="6.88" fill="#c8c000"/>
<rect x="105.48" y="304.87" width="2.24" height="70.63" fill="#0a0088"/>
<rect x="107.72" y="343.47" width="2.24" height="32.03" fill="#c49ced"/>
<rect x="109.95" y="281.77" width="2.24" height="93.73" fill="#6b4a2c"/>
<rect x="112.19" y="366.57" width="2.24" height="8.93" fill="#c8c000"/>
<rect x="127.85" y="298.91" width="2.24" height="76.59" fill="#0a0088"/>
<rect x="130.08" y="349.42" width="2.24" height="26.08" fill="#c49ced"/>
<rect x="132.32" y="281.77" width="2.24" height="93.73" fill="#6b4a2c"/>
<rect x="134.55" y="366.57" width="2.24" height="8.93" fill="#c8c000"/>
<rect x="150.21" y="280.33" width="2.24" height="95.17" fill="#0a0088"/>
<rect x="152.45" y="368.01" width="2.24" height="7.49" fill="#c49ced"/>
<rect x="154.68" y="293.88" width="2.24" height="81.62" fill="#6b4a2c"/>
<rect x="156.92" y="354.45" width="2.24" height="21.05" fill="#c8c000"/>
<rect x="172.57" y="314.62" width="2.24" height="60.88" fill="#0a0088"/>
<rect x="174.81" y="333.71" width="2.24" height="41.79" fill="#c49ced"/>
<rect x="177.05" y="286.28" width="2.24" height="89.22" fill="#6b4a2c"/>
<rect x="179.28" y="362.05" width="2.24" height="13.45" fill="#c8c000"/>
<rect x="194.94" y="298.91" width="2.24" height="76.59" fill="#0a0088"/>
<rect x="197.17" y="349.42" width="2.24" height="26.08" fill="#c49ced"/>
<rect x="199.41" y="281.77" width="2.24" height="93.73" fill="#6b4a2c"/>
<rect x="201.65" y="366.57" width="2.24" height="8.93" fill="#c8c000"/>
<rect x="217.30" y="306.61" width="2.24" height="68.89" fill="#0a0088"/>
<rect x="219.54" y="341.72" width="2.24" height="33.78" fill="#c49ced"/>
<rect x="221.77" y="284.33" width="2.24" height="91.17" fill="#6b4a2c"/>
<rect x="224.01" y="364.00" width="2.24" height="11.50" fill="#c8c000"/>
<rect x="239.66" y="298.91" width="2.24" height="76.59" fill="#0a0088"/>
<rect x="241.90" y="349.42" width="2.24" height="26.08" fill="#c49ced"/>
<rect x="244.14" y="281.97" width="2.24" height="93.53" fill="#6b4a2c"/>
<rect x="246.37" y="366.36" width="2.24" height="9.14" fill="#c8c000"/>
<rect x="20" y="221" width="247" height="1" fill="#6e6e6e"/>
<rect x="20" y="375" width="247" height="1" fill="#6e6e6e"/>
<rect x="20" y="221" width="1" height="155" fill="#6e6e6e"/>
<rect x="266" y="221" width="1" height="155" fill="#6e6e6e"/>
<rect x="18" y="375.00" width="2" height="1" fill="#6e6e6e"/>
<text x="15.20" y="378.25" text-anchor="end" class="tk">0.0</text>
<rect x="18" y="323.67" width="2" height="1" fill="#6e6e6e"/>
<text x="15.20" y="326.92" text-anchor="end" class="tk">0.5</text>
<rect x="18" y="272.33" width="2" height="1" fill="#6e6e6e"/>
<text x="15.20" y="275.58" text-anchor="end" class="tk">1.0</text>
<rect x="42.36" y="376" width="1" height="2" fill="#6e6e6e"/>
<text class="tk" text-anchor="middle" transform="translate(42.56,390.40) rotate(-45)" y="2.75">Pixel 0</text>
<rect x="64.73" y="376" width="1" height="2" fill="#6e6e6e"/>
<text class="tk" text-anchor="middle" transform="translate(64.93,390.40) rotate(-45)" y="2.75">Pixel 1</text>
<rect x="87.09" y="376" width="1" height="2" fill="#6e6e6e"/>
<text class="tk" text-anchor="middle" transform="translate(87.29,390.40) rotate(-45)" y="2.75">Pixel 2</text>
<rect x="109.45" y="376" width="1" height="2" fill="#6e6e6e"/>
<text class="tk" text-anchor="middle" transform="translate(109.65,390.40) rotate(-45)" y="2.75">Pixel 3</text>
<rect x="131.82" y="376" width="1" height="2" fill="#6e6e6e"/>
<text class="tk" text-anchor="middle" transform="translate(132.02,390.40) rotate(-45)" y="2.75">Pixel 4</text>
<rect x="154.18" y="376" width="1" height="2" fill="#6e6e6e"/>
<text class="tk" text-anchor="middle" transform="translate(154.38,390.40) rotate(-45)" y="2.75">Pixel 5</text>
<rect x="176.55" y="376" width="1" height="2" fill="#6e6e6e"/>
<text class="tk" text-anchor="middle" transform="translate(176.75,390.40) rotate(-45)" y="2.75">Pixel 6</text>
<rect x="198.91" y="376" width="1" height="2" fill="#6e6e6e"/>
<text class="tk" text-anchor="middle" transform="translate(199.11,390.40) rotate(-45)" y="2.75">Pixel 7</text>
<rect x="221.27" y="376" width="1" height="2" fill="#6e6e6e"/>
<text class="tk" text-anchor="middle" transform="translate(221.47,390.40) rotate(-45)" y="2.75">Pixel 8</text>
<rect x="243.64" y="376" width="1" height="2" fill="#6e6e6e"/>
<text class="tk" text-anchor="middle" transform="translate(243.84,390.40) rotate(-45)" y="2.75">Pixel 9</text>
<text class="tt" x="94.20" y="218.60" textLength="76.30" lengthAdjust="spacing">C (Path 135 - VH)</text>
<rect x="318.60" y="272" width="15" height="103" fill="#fff5fe"/>
<rect x="343.20" y="272" width="15" height="103" fill="#fff5fe"/>
<rect x="367.80" y="272" width="15" height="103" fill="#fff5fe"/>
<rect x="392.40" y="272" width="15" height="103" fill="#fff5fe"/>
<rect x="417.00" y="272" width="15" height="103" fill="#fff5fe"/>
<rect x="441.60" y="272" width="15" height="103" fill="#fff5fe"/>
<rect x="466.20" y="272" width="15" height="103" fill="#fff5fe"/>
<rect x="490.80" y="272" width="15" height="103" fill="#fff5fe"/>
<rect x="515.40" y="272" width="15" height="103" fill="#fff5fe"/>
<rect x="320.18" y="323.65" width="2.46" height="51.85" fill="#0a0088"/>
<rect x="322.64" y="324.68" width="2.46" height="50.82" fill="#c49ced"/>
<rect x="325.10" y="285.87" width="2.46" height="89.63" fill="#6b4a2c"/>
<rect x="327.56" y="362.46" width="2.46" height="13.04" fill="#c8c000"/>
<rect x="344.78" y="310.61" width="2.46" height="64.89" fill="#0a0088"/>
<rect x="347.24" y="337.72" width="2.46" height="37.78" fill="#c49ced"/>
<rect x="349.70" y="279.71" width="2.46" height="95.79" fill="#6b4a2c"/>
<rect x="352.16" y="368.62" width="2.46" height="6.88" fill="#c8c000"/>
<rect x="369.38" y="304.25" width="2.46" height="71.25" fill="#0a0088"/>
<rect x="371.84" y="344.08" width="2.46" height="31.42" fill="#c49ced"/>
<rect x="374.30" y="285.87" width="2.46" height="89.63" fill="#6b4a2c"/>
<rect x="376.76" y="362.46" width="2.46" height="13.04" fill="#c8c000"/>
<rect x="393.98" y="310.82" width="2.46" height="64.68" fill="#0a0088"/>
<rect x="396.44" y="337.51" width="2.46" height="37.99" fill="#c49ced"/>
<rect x="398.90" y="283.72" width="2.46" height="91.78" fill="#6b4a2c"/>
<rect x="401.36" y="364.62" width="2.46" height="10.88" fill="#c8c000"/>
<rect x="418.58" y="317.19" width="2.46" height="58.31" fill="#0a0088"/>
<rect x="421.04" y="331.15" width="2.46" height="44.35" fill="#c49ced"/>
<rect x="423.50" y="283.72" width="2.46" height="91.78" fill="#6b4a2c"/>
<rect x="425.96" y="364.62" width="2.46" height="10.88" fill="#c8c000"/>
<rect x="443.18" y="323.65" width="2.46" height="51.85" fill="#0a0088"/>
<rect x="445.64" y="324.68" width="2.46" height="50.82" fill="#c49ced"/>
<rect x="448.10" y="277.35" width="2.46" height="98.15" fill="#6b4a2c"/>
<rect x="450.56" y="370.98" width="2.46" height="4.52" fill="#c8c000"/>
<rect x="467.78" y="304.25" width="2.46" height="71.25" fill="#0a0088"/>
<rect x="470.24" y="344.08" width="2.46" height="31.42" fill="#c49ced"/>
<rect x="472.70" y="285.87" width="2.46" height="89.63" fill="#6b4a2c"/>
<rect x="475.16" y="362.46" width="2.46" height="13.04" fill="#c8c000"/>
<rect x="492.38" y="317.19" width="2.46" height="58.31" fill="#0a0088"/>
<rect x="494.84" y="331.15" width="2.46" height="44.35" fill="#c49ced"/>
<rect x="497.30" y="285.87" width="2.46" height="89.63" fill="#6b4a2c"/>
<rect x="499.76" y="362.46" width="2.46" height="13.04" fill="#c8c000"/>
<rect x="516.98" y="291.52" width="2.46" height="83.98" fill="#0a0088"/>
<rect x="519.44" y="356.81" width="2.46" height="18.69" fill="#c49ced"/>
<rect x="521.90" y="283.82" width="2.46" height="91.68" fill="#6b4a2c"/>
<rect x="524.36" y="364.51" width="2.46" height="10.99" fill="#c8c000"/>
<rect x="300" y="221" width="247" height="1" fill="#6e6e6e"/>
<rect x="300" y="375" width="247" height="1" fill="#6e6e6e"/>
<rect x="300" y="221" width="1" height="155" fill="#6e6e6e"/>
<rect x="546" y="221" width="1" height="155" fill="#6e6e6e"/>
<rect x="298" y="375.00" width="2" height="1" fill="#6e6e6e"/>
<text x="295.20" y="378.25" text-anchor="end" class="tk">0.0</text>
<rect x="298" y="323.67" width="2" height="1" fill="#6e6e6e"/>
<text x="295.20" y="326.92" text-anchor="end" class="tk">0.5</text>
<rect x="298" y="272.33" width="2" height="1" fill="#6e6e6e"/>
<text x="295.20" y="275.58" text-anchor="end" class="tk">1.0</text>
<rect x="324.60" y="376" width="1" height="2" fill="#6e6e6e"/>
<text class="tk" text-anchor="middle" transform="translate(324.80,390.40) rotate(-45)" y="2.75">Pixel 0</text>
<rect x="349.20" y="376" width="1" height="2" fill="#6e6e6e"/>
<text class="tk" text-anchor="middle" transform="translate(349.40,390.40) rotate(-45)" y="2.75">Pixel 1</text>
<rect x="373.80" y="376" width="1" height="2" fill="#6e6e6e"/>
<text class="tk" text-anchor="middle" transform="translate(374.00,390.40) rotate(-45)" y="2.75">Pixel 2</text>
<rect x="398.40" y="376" width="1" height="2" fill="#6e6e6e"/>
<text class="tk" text-anchor="middle" transform="translate(398.60,390.40) rotate(-45)" y="2.75">Pixel 3</text>
<rect x="423.00" y="376" width="1" height="2" fill="#6e6e6e"/>
<text class="tk" text-anchor="middle" transform="translate(423.20,390.40) rotate(-45)" y="2.75">Pixel 4</text>
<rect x="447.60" y="376" width="1" height="2" fill="#6e6e6e"/>
<text class="tk" text-anchor="middle" transform="translate(447.80,390.40) rotate(-45)" y="2.75">Pixel 5</text>
<rect x="472.20" y="376" width="1" height="2" fill="#6e6e6e"/>
<text class="tk" text-anchor="middle" transform="translate(472.40,390.40) rotate(-45)" y="2.75">Pixel 6</text>
<rect x="496.80" y="376" width="1" height="2" fill="#6e6e6e"/>
<text class="tk" text-anchor="middle" transform="translate(497.00,390.40) rotate(-45)" y="2.75">Pixel 7</text>
<rect x="521.40" y="376" width="1" height="2" fill="#6e6e6e"/>
<text class="tk" text-anchor="middle" transform="translate(521.60,390.40) rotate(-45)" y="2.75">Pixel 8</text>
<text class="tt" x="381.80" y="218.60" textLength="72.00" lengthAdjust="spacing">D (Path 62 - VH)</text>
<rect x="26.2" y="20.90" width="15.4" height="5" fill="#0a0088"/>
<text class="lg" x="47.2" y="25.70" textLength="92.60" lengthAdjust="spacingAndGlyphs">Average True Freeze Ratio</text>
<rect x="26.2" y="30.70" width="15.4" height="5" fill="#c49ced"/>
<text class="lg" x="47.2" y="35.50" textLength="91.80" lengthAdjust="spacingAndGlyphs">Average False Thaw Ratio</text>
<rect x="26.2" y="40.50" width="15.4" height="5" fill="#6b4a2c"/>
<text class="lg" x="47.2" y="45.30" textLength="88.60" lengthAdjust="spacingAndGlyphs">Average True Thaw Ratio</text>
<rect x="26.2" y="50.30" width="15.4" height="5" fill="#c8c000"/>
<text class="lg" x="47.2" y="55.10" textLength="95.60" lengthAdjust="spacingAndGlyphs">Average False Freeze Ratio</text>
</svg>
</body></html>
